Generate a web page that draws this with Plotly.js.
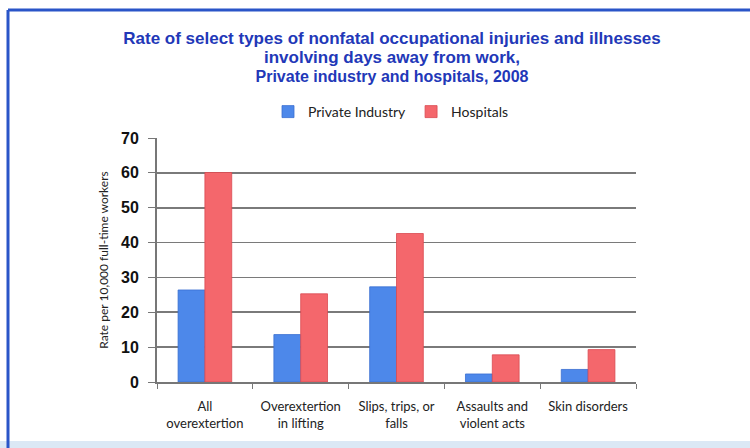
<!DOCTYPE html>
<html><head><meta charset="utf-8">
<script src="https://cdn.plot.ly/plotly-3.0.1.min.js"></script>
<style>html,body{margin:0;padding:0;background:#fff}#chart{width:750px;height:448px}</style>
</head><body><div id="chart"></div>
<script>
const categories = ["All<br>overextertion", "Overextertion<br>in lifting", "Slips, trips, or<br>falls", "Assaults and<br>violent acts", "Skin disorders"];
const privateIndustry = [26.4, 13.6, 27.3, 2.3, 3.6];
const hospitals = [60.1, 25.3, 42.6, 7.8, 9.3];
const seriesNames = ["Private Industry", "Hospitals"];
const yTicks = [0, 10, 20, 30, 40, 50, 60, 70];

const L = 157, R = 636, T = 138, B = 382, W = 750, H = 448;
const px = x => (x - L) / (R - L);
const py = y => (B - y) / (B - T);

const traces = [
  {type: 'bar', name: seriesNames[0], x: categories, y: privateIndustry,
   marker: {color: '#4d88ea', line: {color: '#3a6fd0', width: 0.8}}},
  {type: 'bar', name: seriesNames[1], x: categories, y: hospitals,
   marker: {color: '#f4676c', line: {color: '#d94a50', width: 0.8}}}
];

const layout = {
  width: W, height: H,
  margin: {l: L, r: W - R, t: T, b: H - B},
  paper_bgcolor: '#ffffff', plot_bgcolor: '#ffffff',
  barmode: 'group', bargap: 0.44, bargroupgap: 0,
  showlegend: true,
  title: {
    text: '<span style="font-size:17px">Rate of select types of nonfatal occupational injuries and illnesses</span><br>' +
          '<span style="font-size:17px">involving days away from work,</span><br>' +
          '<span style="font-size:16px">Private industry and hospitals, 2008</span>',
    font: {family: 'Liberation Sans, Arial, sans-serif', size: 14.5, color: '#2238b8', weight: 'bold'},
    x: 392 / W, xref: 'container', xanchor: 'center',
    y: 1 - 44 / H, yref: 'container', yanchor: 'top'
  },
  legend: {
    orientation: 'h', x: px(391), xanchor: 'center', y: py(112), yanchor: 'middle',
    font: {family: 'Lato, Open Sans, sans-serif', size: 14, color: '#222'},
    itemwidth: 30, traceorder: 'normal'
  },
  xaxis: {
    type: 'category', tickson: 'boundaries', ticks: 'outside', ticklen: 5, tickcolor: '#777',
    showline: true, linecolor: '#777', linewidth: 2, showgrid: false,
    ticklabelstandoff: 11,
    tickfont: {family: 'Lato, Open Sans, sans-serif', size: 13, color: '#222'}
  },
  yaxis: {
    range: [0, 70], tickvals: yTicks, ticktext: yTicks.map(String),
    ticks: 'outside', ticklen: 7, tickcolor: '#777',
    showline: true, linecolor: '#777', linewidth: 2, ticklabelstandoff: 6,
    showgrid: true, gridcolor: '#7a7a7a', gridwidth: 1.6, zeroline: false,
    tickfont: {family: 'Liberation Sans, Arial, sans-serif', size: 16, color: '#111', weight: 'bold'},
    title: {text: 'Rate per 10,000 full-time workers', standoff: 10,
      font: {family: 'Lato, Open Sans, sans-serif', size: 12, color: '#222'}}
  },
  shapes: [
    {type: 'line', xref: 'paper', yref: 'paper', x0: px(8), x1: px(760), y0: py(10), y1: py(10),
     line: {color: '#2a55c8', width: 3}},
    {type: 'line', xref: 'paper', yref: 'paper', x0: px(8), x1: px(8), y0: py(10), y1: py(448),
     line: {color: '#2a55c8', width: 3}},
    {type: 'rect', xref: 'paper', yref: 'paper', x0: px(0), x1: px(750), y0: py(441), y1: py(448),
     fillcolor: '#dbe8f5', line: {width: 0}, layer: 'below'}
  ]
};

Plotly.newPlot('chart', traces, layout, {displayModeBar: false, staticPlot: true});
</script></body></html>
